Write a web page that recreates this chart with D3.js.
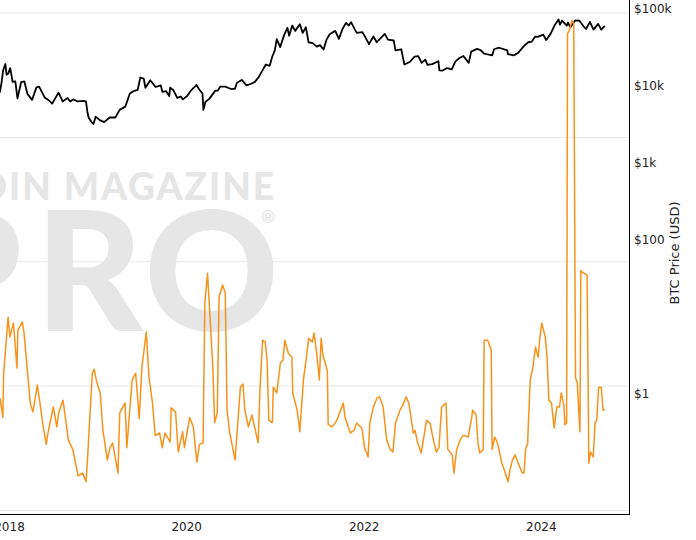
<!DOCTYPE html>
<html>
<head>
<meta charset="utf-8">
<script src="https://cdn.jsdelivr.net/npm/d3@7"></script>
<style>
  body { margin: 0; background: #fff; }
  svg { display: block; }
</style>
</head>
<body>
<svg id="chart" width="696" height="540"></svg>
<script>
// BTC price (USD), roughly two points a month
const btcDates = [
  "2017-11-24","2017-12-01","2017-12-08","2017-12-17","2017-12-22","2017-12-29",
  "2018-01-06","2018-01-16","2018-01-27","2018-02-05","2018-02-20","2018-03-05","2018-03-18",
  "2018-04-06","2018-04-24","2018-05-05","2018-05-28","2018-06-12","2018-06-28","2018-07-24",
  "2018-08-10","2018-08-30","2018-09-10","2018-09-22","2018-10-11","2018-11-05","2018-11-14",
  "2018-11-20","2018-11-25","2018-12-07","2018-12-15","2018-12-24",
  "2019-01-10","2019-01-28","2019-02-20","2019-03-15","2019-04-02","2019-04-25","2019-05-14",
  "2019-05-30","2019-06-15","2019-06-26","2019-07-10","2019-07-17","2019-08-06","2019-08-28",
  "2019-09-18","2019-09-25","2019-10-10","2019-10-23","2019-10-27","2019-11-10","2019-11-25",
  "2019-12-10","2019-12-18",
  "2020-01-05","2020-01-20","2020-02-12","2020-02-26","2020-03-08","2020-03-12","2020-03-20",
  "2020-04-05","2020-04-30","2020-05-10","2020-05-20","2020-06-10","2020-07-01","2020-07-20",
  "2020-07-28","2020-08-17","2020-09-05","2020-09-25","2020-10-10","2020-10-25","2020-11-08",
  "2020-11-24","2020-12-10","2020-12-20","2020-12-31",
  "2021-01-08","2021-01-22","2021-02-08","2021-02-21","2021-02-28","2021-03-13","2021-03-25",
  "2021-04-13","2021-04-25","2021-05-08","2021-05-19","2021-06-05","2021-06-22","2021-07-05",
  "2021-07-20","2021-08-01","2021-08-14","2021-09-06","2021-09-21","2021-10-06","2021-10-20",
  "2021-11-01","2021-11-10","2021-11-26","2021-12-04","2021-12-27",
  "2022-01-10","2022-01-23","2022-02-10","2022-02-24","2022-03-29","2022-04-11","2022-05-05",
  "2022-05-12","2022-06-05","2022-06-13","2022-06-18","2022-07-10","2022-07-30","2022-08-14",
  "2022-08-28","2022-09-12","2022-09-21","2022-10-10","2022-11-05","2022-11-09","2022-11-21",
  "2022-12-10","2022-12-30",
  "2023-01-14","2023-01-31","2023-02-16","2023-03-10","2023-03-20","2023-04-13","2023-04-28",
  "2023-05-12","2023-06-15","2023-06-22","2023-07-13","2023-08-16","2023-08-18","2023-09-11",
  "2023-09-30","2023-10-23","2023-11-10","2023-11-25","2023-12-08","2023-12-20",
  "2024-01-11","2024-01-23","2024-02-10","2024-02-28","2024-03-14","2024-03-20","2024-03-28",
  "2024-04-17","2024-04-22","2024-05-01","2024-05-21","2024-06-07","2024-06-24","2024-07-05",
  "2024-07-21","2024-08-05","2024-08-24","2024-09-06","2024-09-20"
];
const btcPrices = [
  8200,10900,16000,19300,14000,14500,
  17100,11300,11500,6900,11200,11500,7900,
  6600,9600,9800,7100,6600,5900,8200,
  6300,7000,6300,6700,6300,6400,6300,
  4600,3900,3400,3200,4000,
  3600,3400,3900,3900,4900,5400,8000,
  8600,8900,12900,12500,9500,11900,9700,
  10200,8400,8600,7400,9500,8800,7000,
  7300,6700,
  7400,8700,10300,8800,8000,4900,6200,
  6800,8700,8700,9800,9800,9200,9200,
  11000,12000,10200,10700,11300,13000,15500,
  19000,18300,23800,29000,
  40500,32000,46500,57000,45000,61000,52000,
  63500,49000,58000,37000,36000,32500,34000,
  29800,40000,47000,52000,41000,55000,66000,
  61000,67500,54000,49000,50000,
  41800,35000,44000,37000,47500,40000,39000,
  29000,30000,22500,19000,20500,24000,24500,
  20000,22000,18800,19200,21000,16000,15800,
  17100,16500,
  20900,23100,24500,20000,28000,30300,29300,
  26300,25000,30000,31400,29000,26000,25000,
  27000,33000,37000,37800,43700,43500,
  46500,39500,47500,62500,73000,62500,70800,
  61000,66800,57500,71000,70800,60000,55000,
  68000,54000,64000,54000,60500
];

// orange metric (hidden log axis), dates as decimal years
const metricYears = [
  2017.90,2017.93,2017.94,2017.99,2018.01,2018.05,2018.09,2018.10,2018.15,2018.17,
  2018.20,2018.24,2018.27,2018.32,2018.35,2018.38,2018.42,2018.44,2018.50,2018.54,
  2018.56,2018.61,2018.64,2018.67,2018.72,2018.78,2018.83,2018.87,2018.89,2018.94,
  2018.96,2018.99,2019.03,2019.06,2019.11,2019.14,2019.17,2019.23,2019.25,2019.31,
  2019.33,2019.39,2019.43,2019.47,2019.50,2019.55,2019.58,2019.62,2019.65,2019.70,
  2019.73,2019.76,2019.82,2019.83,2019.88,2019.91,2019.96,2019.98,2020.04,2020.08,
  2020.12,2020.15,2020.19,2020.21,2020.24,2020.30,2020.32,2020.35,2020.37,2020.41,
  2020.44,2020.46,2020.49,2020.55,2020.61,2020.64,2020.66,2020.70,2020.74,2020.77,
  2020.81,2020.83,2020.86,2020.89,2020.91,2020.93,2020.97,2020.98,2021.02,2021.06,
  2021.09,2021.11,2021.15,2021.19,2021.20,2021.25,2021.28,2021.32,2021.34,2021.38,
  2021.42,2021.44,2021.47,2021.50,2021.52,2021.54,2021.59,2021.60,2021.64,2021.68,
  2021.71,2021.77,2021.79,2021.85,2021.89,2021.92,2021.98,2022.01,2022.05,2022.07,
  2022.11,2022.15,2022.18,2022.22,2022.26,2022.30,2022.33,2022.36,2022.41,2022.44,
  2022.48,2022.51,2022.56,2022.58,2022.61,2022.65,2022.71,2022.75,2022.78,2022.82,
  2022.85,2022.88,2022.93,2022.95,2023.00,2023.02,2023.05,2023.09,2023.12,2023.14,
  2023.18,2023.22,2023.23,2023.27,2023.29,2023.31,2023.35,2023.36,2023.40,2023.44,
  2023.45,2023.48,2023.51,2023.56,2023.59,2023.63,2023.65,2023.68,2023.71,2023.74,
  2023.79,2023.81,2023.83,2023.85,2023.88,2023.91,2023.94,2023.97,2023.99,2024.01,
  2024.05,2024.07,2024.09,2024.12,2024.15,2024.18,2024.21,2024.23,2024.26,2024.27,
  2024.29,2024.30,2024.32,2024.35,2024.37,2024.39,2024.41,2024.44,2024.45,2024.47,
  2024.52,2024.53,2024.54,2024.56,2024.59,2024.61,2024.63,2024.65,2024.68,2024.70,
  2024.72
];
const metricValues = [
  0.80,0.56,1.27,3.58,2.48,3.21,1.40,2.82,3.27,2.67,
  1.53,0.73,0.62,1.02,0.73,0.505,0.34,0.42,0.68,0.47,
  0.61,0.77,0.53,0.37,0.31,0.19,0.20,0.17,0.29,1.27,
  1.37,1.08,0.88,0.44,0.255,0.32,0.35,0.20,0.61,0.73,
  0.32,1.12,1.27,0.55,1.42,2.72,1.18,0.73,0.40,0.42,
  0.32,0.42,0.355,0.67,0.62,0.295,0.43,0.32,0.56,0.47,
  0.245,0.34,0.35,4.7,8.1,1.42,0.51,0.61,5.2,6.5,
  5.6,0.64,0.42,0.255,0.98,1.04,0.64,0.47,0.585,0.47,
  0.35,0.93,2.34,2.26,1.62,0.53,0.51,0.98,0.88,1.53,
  1.62,2.34,1.84,1.71,0.88,0.64,0.43,1.12,1.42,2.43,
  2.26,2.67,1.84,1.12,2.43,1.77,1.34,0.49,0.47,0.505,
  0.56,0.73,0.56,0.42,0.44,0.505,0.46,0.32,0.27,0.505,
  0.68,0.80,0.82,0.68,0.37,0.31,0.295,0.505,0.64,0.70,
  0.82,0.73,0.42,0.44,0.35,0.29,0.53,0.505,0.39,0.295,
  0.32,0.68,0.73,0.31,0.28,0.20,0.31,0.37,0.40,0.40,
  0.39,0.56,0.64,0.585,0.35,0.29,0.31,2.34,2.34,1.95,
  0.31,0.39,0.35,0.24,0.21,0.17,0.21,0.255,0.28,0.245,
  0.20,0.20,0.32,0.34,1.12,1.42,2.06,1.71,2.48,3.21,
  2.48,1.71,0.77,0.73,0.46,0.68,0.68,0.88,0.70,0.49,
  0.505,684,724,870,820,1.18,1.06,0.43,8.5,8.2,
  7.8,1.53,0.24,0.295,0.27,0.51,0.53,0.98,0.98,0.64,
  0.65
];

const priceTicks = [1, 100, 1000, 10000, 100000];
const priceTickLabels = ["$1", "$100", "$1k", "$10k", "$100k"];
const metricGrid = [0.1, 1, 10, 100, 1000];
const yearTicks = [2018, 2020, 2022, 2024];

const width = 696, height = 540;
const plotRight = 629, plotBottom = 514;
const font = "'DejaVu Sans', Verdana, sans-serif";

function fromDecimalYear(t) {
  const y = Math.floor(t);
  const s = Date.UTC(y, 0, 1), e = Date.UTC(y + 1, 0, 1);
  return new Date(s + (t - y) * (e - s));
}

const parse = d3.utcParse("%Y-%m-%d");
const btc = btcDates.map((d, i) => ({ date: parse(d), value: btcPrices[i] }));
const metric = metricYears.map((t, i) => ({ date: fromDecimalYear(t), value: metricValues[i] }));

const svg = d3.select("#chart");

const x = d3.scaleUtc()
    .domain([fromDecimalYear(2018 - 9 / 88.67), fromDecimalYear(2018 + 620 / 88.67)])
    .range([0, plotRight]);
const yPrice = d3.scaleLog().domain([1, 100000]).range([394, 9]);
const yMetric = d3.scaleLog().domain([0.1, 1000]).range([510.5, 13]);

// watermark
const wm = svg.append("g").attr("fill", "#e6e6e6")
    .style("font-family", "Lato, 'Open Sans', sans-serif").style("font-weight", 900);
wm.append("text").attr("x", 276).attr("y", 200).attr("text-anchor", "end")
    .style("font-size", "37px").style("letter-spacing", "2px").text("BITCOIN MAGAZINE");
// PRO letters placed one by one to match the logo spacing
const proLetters = ["P", "R", "O"];
const proRight = [22, 143, 279];
wm.selectAll("text.pro")
    .data(proLetters)
    .enter().append("text").attr("class", "pro")
    .attr("x", (d, i) => proRight[i]).attr("y", 331).attr("text-anchor", "end")
    .style("font-size", "166px").text(d => d);
wm.append("text").attr("x", 268).attr("y", 223).attr("text-anchor", "middle")
    .style("font-size", "17px").style("font-weight", 700).text("®");

// gridlines
svg.append("g").selectAll("line")
    .data(metricGrid)
    .enter().append("line")
    .attr("x1", 0).attr("x2", plotRight)
    .attr("y1", d => yMetric(d)).attr("y2", d => yMetric(d))
    .attr("stroke", "#e8e8e8").attr("stroke-width", 1);

svg.append("clipPath").attr("id", "plot-clip")
    .append("rect").attr("x", 0).attr("y", 0).attr("width", plotRight).attr("height", plotBottom);

const linePrice = d3.line().x(d => x(d.date)).y(d => yPrice(d.value));
const lineMetric = d3.line().x(d => x(d.date)).y(d => yMetric(d.value));

svg.append("path").datum(btc)
    .attr("clip-path", "url(#plot-clip)")
    .attr("d", linePrice)
    .attr("fill", "none").attr("stroke", "#000").attr("stroke-width", 1.8)
    .attr("stroke-linejoin", "round");

svg.append("path").datum(metric)
    .attr("clip-path", "url(#plot-clip)")
    .attr("d", lineMetric)
    .attr("fill", "none").attr("stroke", "#f7931a").attr("stroke-width", 1.5)
    .attr("stroke-linejoin", "round");

// axes
const xAxis = svg.append("g")
    .attr("transform", `translate(0,${plotBottom})`)
    .call(d3.axisBottom(x)
        .tickValues(yearTicks.map(y => fromDecimalYear(y)))
        .tickFormat(d3.utcFormat("%Y"))
        .tickSize(0).tickPadding(8));
xAxis.select(".domain").remove();
xAxis.selectAll("text").style("font-family", font).style("font-size", "12px").attr("fill", "#222");

const yAxis = svg.append("g")
    .attr("transform", `translate(${plotRight},0)`)
    .call(d3.axisRight(yPrice)
        .tickValues(priceTicks)
        .tickFormat((d, i) => priceTickLabels[i])
        .tickSize(0).tickPadding(5));
yAxis.select(".domain").remove();
yAxis.selectAll("text").style("font-family", font).style("font-size", "12px").attr("fill", "#222");

svg.append("line").attr("x1", 0).attr("x2", plotRight + 0.5)
    .attr("y1", plotBottom + 0.5).attr("y2", plotBottom + 0.5)
    .attr("stroke", "#000").attr("stroke-width", 1);
svg.append("line").attr("x1", plotRight + 0.5).attr("x2", plotRight + 0.5)
    .attr("y1", 0).attr("y2", plotBottom + 1)
    .attr("stroke", "#000").attr("stroke-width", 1);

svg.append("text")
    .attr("transform", `translate(679,253) rotate(-90)`)
    .attr("text-anchor", "middle")
    .style("font-family", font).style("font-size", "13px").attr("fill", "#222")
    .text("BTC Price (USD)");
</script>
</body>
</html>
